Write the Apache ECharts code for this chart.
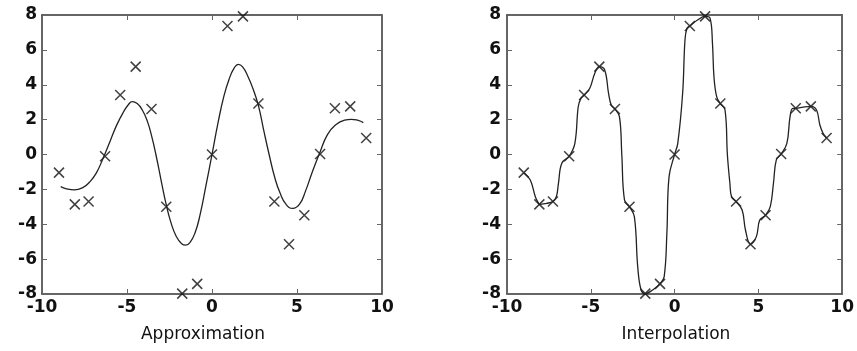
<!DOCTYPE html>
<html>
<head>
<meta charset="utf-8">
<script src="https://cdn.jsdelivr.net/npm/echarts@6/dist/echarts.min.js"></script>
<style>
  html, body { margin: 0; padding: 0; background: #fff; }
  #main { width: 857px; height: 351px; }
</style>
</head>
<body>
<div id="main"></div>
<script>
// sample points (crosses), same in both panels
var markerX = [-9.0, -8.07, -7.26, -6.29, -5.4, -4.49, -3.56, -2.69, -1.75, -0.87, 0.0,
               0.91, 1.82, 2.73, 3.67, 4.53, 5.43, 6.36, 7.23, 8.13, 9.07];
var markerY = [-1.04, -2.86, -2.7, -0.1, 3.41, 5.04, 2.61, -3.0, -7.98, -7.42, 0.0,
               7.37, 7.92, 2.92, -2.7, -5.15, -3.48, 0.03, 2.65, 2.76, 0.95];

// approximation curve
var approxX = [-8.9, -8.5, -8.1, -7.6, -7.2, -6.8, -6.4, -6.0, -5.6, -5.2, -4.9, -4.7,
               -4.4, -4.1, -3.8, -3.55, -3.3, -3.0, -2.7, -2.4, -2.1, -1.8, -1.55, -1.3,
               -1.0, -0.7, -0.35, 0.0, 0.35, 0.7, 1.0, 1.3, 1.55, 1.8, 2.1, 2.4, 2.73,
               3.05, 3.36, 3.7, 4.0, 4.35, 4.75, 5.15, 5.5, 5.9, 6.34, 6.8, 7.3, 7.8,
               8.2, 8.6, 8.9];
var approxY = [-1.84, -1.98, -2.03, -1.9, -1.58, -1.05, -0.2, 0.75, 1.7, 2.45, 2.88, 3.03,
               2.92, 2.55, 1.9, 1.05, 0.0, -1.45, -2.85, -3.95, -4.7, -5.1, -5.2, -5.05,
               -4.5, -3.45, -1.75, 0.0, 1.8, 3.35, 4.3, 4.95, 5.17, 5.02, 4.5, 3.8, 2.8,
               1.35, 0.0, -1.35, -2.2, -2.85, -3.09, -2.85, -2.1, -1.0, 0.1, 1.15, 1.72, 1.97,
               2.02, 1.95, 1.83];

// interpolation curve
var interpX = [-9.0, -8.61, -8.31, -8.12, -8.07, -7.65, -7.26, -7.05, -6.93, -6.73, -6.29,
               -5.95, -5.75, -5.59, -5.4, -5.06, -4.76, -4.49, -4.17, -3.94, -3.78, -3.56,
               -3.29, -3.15, -2.99, -2.69, -2.4, -2.2, -2.0, -1.75, -1.31, -0.87, -0.62,
               -0.46, -0.33, 0.0, 0.19, 0.48, 0.62, 0.74, 0.91, 1.37, 1.82, 2.12, 2.26,
               2.35, 2.51, 2.73, 3.01, 3.15, 3.3, 3.4, 3.67, 4.03, 4.23, 4.53, 4.88, 5.08,
               5.43, 5.71, 5.9, 6.07, 6.36, 6.7, 6.89, 7.05, 7.23, 7.68, 8.13, 8.47, 8.67,
               8.86, 9.07];
var interpY = [-1.04, -1.46, -2.42, -2.8, -2.86, -2.8, -2.7, -2.4, -1.65, -0.5, -0.1,
               0.64, 2.74, 3.22, 3.41, 3.8, 4.66, 5.04, 4.85, 3.51, 2.84, 2.61,
               2.17, 0.0, -2.6, -3.0, -3.56, -6.43, -7.77, -7.98, -7.77, -7.42, -7.0,
               -4.52, -1.27, 0.0, 0.64, 3.51, 6.57, 7.24, 7.37, 7.71, 7.92, 7.81, 6.38,
               4.46, 3.32, 2.92, 2.55, 0.0, -1.65, -2.42, -2.7, -3.18, -4.33, -5.15, -4.71, -3.76,
               -3.48, -2.99, -1.65, -0.31, 0.03, 0.64, 2.17, 2.65, 2.65, 2.72, 2.76, 2.55, 1.69,
               1.22, 0.95];

var panelNames = ['Approximation', 'Interpolation'];

function zip(xs, ys) {
  return xs.map(function (x, i) { return [x, ys[i]]; });
}

var tickFont = { fontFamily: 'DejaVu Sans', fontWeight: 'bold', fontSize: 17, color: '#111' };
var lineCol = '#333';

function xAxisPair(gridIndex) {
  return [
    {
      gridIndex: gridIndex, type: 'value', min: -10, max: 10, interval: 5, position: 'bottom',
      axisLine: { show: true, onZero: false, lineStyle: { color: lineCol, width: 1.5 } },
      axisTick: { show: true, inside: true, length: 5, lineStyle: { color: '#666' } },
      axisLabel: Object.assign({ margin: 5 }, tickFont),
      splitLine: { show: false }
    },
    {
      gridIndex: gridIndex, type: 'value', min: -10, max: 10, interval: 5, position: 'top',
      axisLine: { show: true, onZero: false, lineStyle: { color: lineCol, width: 1.5 } },
      axisTick: { show: true, inside: true, length: 5, lineStyle: { color: '#666' } },
      axisLabel: { show: false },
      splitLine: { show: false }
    }
  ];
}

function yAxisPair(gridIndex, margin) {
  return [
    {
      gridIndex: gridIndex, type: 'value', min: -8, max: 8, interval: 2, position: 'left',
      axisLine: { show: true, onZero: false, lineStyle: { color: lineCol, width: 1.5 } },
      axisTick: { show: true, inside: true, length: 5, lineStyle: { color: '#666' } },
      axisLabel: Object.assign({ margin: margin }, tickFont),
      splitLine: { show: false }
    },
    {
      gridIndex: gridIndex, type: 'value', min: -8, max: 8, interval: 2, position: 'right',
      axisLine: { show: true, onZero: false, lineStyle: { color: lineCol, width: 1.5 } },
      axisTick: { show: true, inside: true, length: 5, lineStyle: { color: '#666' } },
      axisLabel: { show: false },
      splitLine: { show: false }
    }
  ];
}

var crossSymbol = 'path://M0,0L10,10M10,0L0,10';
var crossStyle = { color: 'transparent', borderColor: '#111', borderWidth: 1.5 };

var chart = echarts.init(document.getElementById('main'), null, { renderer: 'canvas' });

var option = {
  animation: false,
  backgroundColor: '#fff',
  grid: [
    { left: 42, top: 15, width: 340, height: 279 },
    { left: 507, top: 15, width: 338, height: 279 }
  ],
  xAxis: xAxisPair(0).concat(xAxisPair(1)),
  yAxis: yAxisPair(0, 5).concat(yAxisPair(1, 6)),
  graphic: [
    { type: 'text', x: 203, y: 335, style: { text: panelNames[0], font: '17px "DejaVu Sans"', fill: '#111', textAlign: 'center', textVerticalAlign: 'middle' } },
    { type: 'text', x: 676, y: 335, style: { text: panelNames[1], font: '17px "DejaVu Sans"', fill: '#111', textAlign: 'center', textVerticalAlign: 'middle' } }
  ],
  series: [
    {
      type: 'line', xAxisIndex: 0, yAxisIndex: 0,
      data: zip(approxX, approxY),
      smooth: 0.5, showSymbol: false,
      lineStyle: { color: '#222', width: 1.3 }
    },
    {
      type: 'scatter', xAxisIndex: 0, yAxisIndex: 0,
      data: zip(markerX, markerY),
      symbol: crossSymbol, symbolSize: 10, itemStyle: crossStyle
    },
    {
      type: 'line', xAxisIndex: 2, yAxisIndex: 2,
      data: zip(interpX, interpY),
      smooth: 0.4, showSymbol: false,
      lineStyle: { color: '#222', width: 1.3 }
    },
    {
      type: 'scatter', xAxisIndex: 2, yAxisIndex: 2,
      data: zip(markerX, markerY),
      symbol: crossSymbol, symbolSize: 10, itemStyle: crossStyle
    }
  ]
};

chart.setOption(option);
</script>
</body>
</html>
